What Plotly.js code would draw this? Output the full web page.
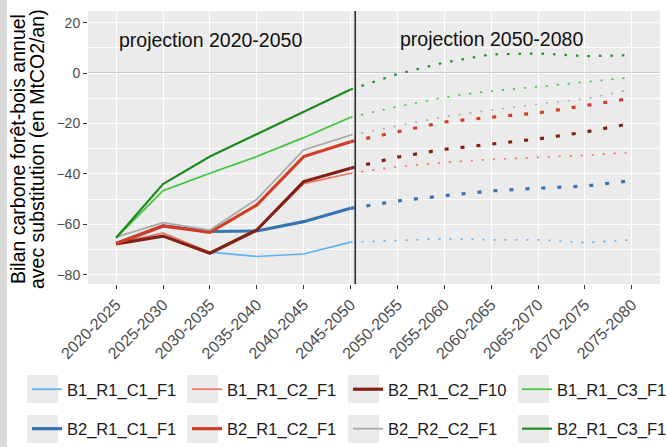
<!DOCTYPE html>
<html>
<head>
<meta charset="utf-8">
<script src="https://cdn.plot.ly/plotly-3.0.1.min.js"></script>
<style>
html,body{margin:0;padding:0;background:#fff;}
#chart{width:666px;height:447px;}
</style>
</head>
<body>
<div id="chart"></div>
<script>
// ---- data ----
const categories = ['2020-2025','2025-2030','2030-2035','2035-2040','2040-2045','2045-2050',
                    '2050-2055','2055-2060','2060-2065','2065-2070','2070-2075','2075-2080'];
const seriesNames = ['B1_R1_C1_F1','B2_R1_C1_F1','B1_R1_C2_F1','B2_R1_C2_F10',
                     'B2_R1_C2_F1','B2_R2_C2_F1','B1_R1_C3_F1','B2_R1_C3_F1'];
// first 6 values: projection 2020-2050 (solid); values 6..12 continue 2050-2080 (dotted)
const B1_R1_C1_F1  = [-67.5,-63.4,-71.0,-72.7,-71.7,-67.0, -66.4,-65.7,-66.1,-66.1,-67.2,-66.1];
const B2_R1_C1_F1  = [-67.5,-60.6,-62.8,-62.6,-58.9,-53.6, -50.7,-48.6,-46.7,-45.6,-44.8,-42.6];
const B1_R1_C2_F1  = [-67.5,-63.4,-71.0,-62.2,-43.8,-39.7, -37.1,-35.4,-34.2,-33.4,-32.6,-31.4];
const B2_R1_C2_F10 = [-67.7,-64.6,-71.4,-62.2,-43.0,-37.7, -33.3,-30.2,-28.0,-26.1,-23.4,-19.9];
const B2_R1_C2_F1  = [-67.5,-60.6,-63.1,-52.3,-33.1,-27.2, -23.4,-19.4,-17.5,-15.8,-12.9,-10.0];
const B2_R2_C2_F1  = [-65.0,-59.3,-62.2,-50.0,-30.5,-24.6, -21.0,-17.3,-14.7,-12.3,-10.2,-6.5];
const B1_R1_C3_F1  = [-65.3,-46.6,-39.7,-33.1,-25.6,-17.5, -13.3,-9.6,-7.1,-5.4,-3.4,-1.7];
const B2_R1_C3_F1  = [-65.3,-44.0,-33.1,-24.3,-15.3,-6.5, -0.4,4.2,7.4,7.8,6.7,7.1];
const yTickVals = [-80,-60,-40,-20,0,20];
const periodLabels = ['projection 2020-2050','projection 2050-2080'];
const yTitleLines = ['Bilan carbone forêt-bois annuel','avec substitution (en MtCO2/an)'];

// ---- styles ----
const values = {B1_R1_C1_F1,B2_R1_C1_F1,B1_R1_C2_F1,B2_R1_C2_F10,B2_R1_C2_F1,B2_R2_C2_F1,B1_R1_C3_F1,B2_R1_C3_F1};
const style = {
  B1_R1_C1_F1:  {color:'#5eb1f2', w:1.7, dash:'2px,9px',  legend:'legend'},
  B2_R1_C1_F1:  {color:'#3874b0', w:3.2, dash:'4px,12px', legend:'legend'},
  B1_R1_C2_F1:  {color:'#f4735c', w:1.7, dash:'2px,9px',  legend:'legend2'},
  B2_R1_C2_F1:  {color:'#d03e26', w:3.2, dash:'4px,12px', legend:'legend2'},
  B2_R1_C2_F10: {color:'#7f2214', w:3.2, dash:'4px,12px', legend:'legend3'},
  B2_R2_C2_F1:  {color:'#a9a9a9', w:1.7, dash:'2px,9px',  legend:'legend3'},
  B1_R1_C3_F1:  {color:'#3cc43c', w:1.7, dash:'2px,9px',  legend:'legend4'},
  B2_R1_C3_F1:  {color:'#1f8a1f', w:2.2, dash:'2.5px,9px',legend:'legend4'}
};

const traces = [];
seriesNames.forEach(name => {
  const s = style[name], v = values[name];
  traces.push({
    type:'scatter', mode:'lines', name:name, legendgroup:name, legend:s.legend,
    x:categories.slice(0,6), y:v.slice(0,6),
    line:{color:s.color, width:s.w}, hoverinfo:'x+y+name'
  });
  traces.push({
    type:'scatter', mode:'lines', name:name, legendgroup:name, legend:s.legend, showlegend:false,
    x:categories.slice(5), y:v.slice(5),
    line:{color:s.color, width:s.w, dash:s.dash}, hoverinfo:'x+y+name'
  });
});

// pixel helpers for paper coordinates (plot area 88..660 x 11..284)
const L=88, R=660, T=11, B=284;
const px = p => (p-L)/(R-L);
const py = p => (B-p)/(B-T);

const shapes = [
  {type:'line', xref:'x', yref:'y', x0:-0.6, x1:11.6, y0:0, y1:0, line:{color:'#a3a3a3', width:1.3}, layer:'below'},
  {type:'line', xref:'x', yref:'paper', x0:5.1, x1:5.1, y0:0, y1:1, line:{color:'#2b2b2b', width:1.6}, layer:'above'},
  {type:'rect', xref:'paper', yref:'paper', x0:px(0), x1:px(7), y0:py(447), y1:py(0), fillcolor:'#d9d9d9', line:{width:0}, layer:'below'}
];
const boxCols = [27,187,348,518], boxRows = [375,415];
boxCols.forEach(c => boxRows.forEach(r => {
  shapes.push({type:'rect', xref:'paper', yref:'paper', x0:px(c), x1:px(c+31), y0:py(r+28), y1:py(r),
               fillcolor:'#ebebeb', line:{width:0}, layer:'below'});
}));

const legBase = {orientation:'v', yanchor:'top', xanchor:'left', bgcolor:'rgba(0,0,0,0)',
                 font:{family:'Liberation Sans, Arial, sans-serif', size:16.5, color:'#1a1a1a'},
                 tracegroupgap:15, y:py(372)};
const layout = {
  width:666, height:447,
  margin:{l:L, r:666-R, t:T, b:447-B, pad:0, autoexpand:false},
  paper_bgcolor:'#ffffff', plot_bgcolor:'#ebebeb',
  font:{family:'Liberation Sans, Arial, sans-serif'},
  xaxis:{type:'category', categoryarray:categories, categoryorder:'array', range:[-0.6,11.6],
         tickangle:-45, ticks:'outside', ticklen:4, tickwidth:1, tickcolor:'#333',
         tickfont:{size:16, color:'#4d4d4d'}, showgrid:true, gridcolor:'#ffffff', gridwidth:1.1,
         zeroline:false, showline:false, fixedrange:true, automargin:false},
  yaxis:{range:[-83.6,24.6], tickvals:yTickVals, ticks:'outside', ticklen:4, tickwidth:1, tickcolor:'#333',
         tickfont:{size:14, color:'#4d4d4d'}, showgrid:true, gridcolor:'#ffffff', gridwidth:1.1,
         minor:{dtick:10, tick0:0, showgrid:true, gridcolor:'#ffffff', gridwidth:0.5, ticks:''},
         zeroline:false, showline:false, fixedrange:true, automargin:false},
  shapes:shapes,
  annotations:[
    {xref:'paper', yref:'paper', x:px(210), y:py(40), text:periodLabels[0], showarrow:false,
     font:{size:19.5, color:'#111'}, xanchor:'center', yanchor:'middle'},
    {xref:'paper', yref:'paper', x:px(491), y:py(39), text:periodLabels[1], showarrow:false,
     font:{size:19.5, color:'#111'}, xanchor:'center', yanchor:'middle'},
    {xref:'paper', yref:'paper', x:px(18), y:py(149), text:yTitleLines[0], showarrow:false, textangle:-90,
     font:{size:19.5, color:'#000'}, xanchor:'center', yanchor:'middle'},
    {xref:'paper', yref:'paper', x:px(37), y:py(149), text:yTitleLines[1], showarrow:false, textangle:-90,
     font:{size:19.5, color:'#000'}, xanchor:'center', yanchor:'middle'}
  ],
  legend:  Object.assign({}, legBase, {x:px(27)}),
  legend2: Object.assign({}, legBase, {x:px(187)}),
  legend3: Object.assign({}, legBase, {x:px(348)}),
  legend4: Object.assign({}, legBase, {x:px(517)}),
  showlegend:true
};

Plotly.newPlot('chart', traces, layout, {displayModeBar:false});
</script>
</body>
</html>
